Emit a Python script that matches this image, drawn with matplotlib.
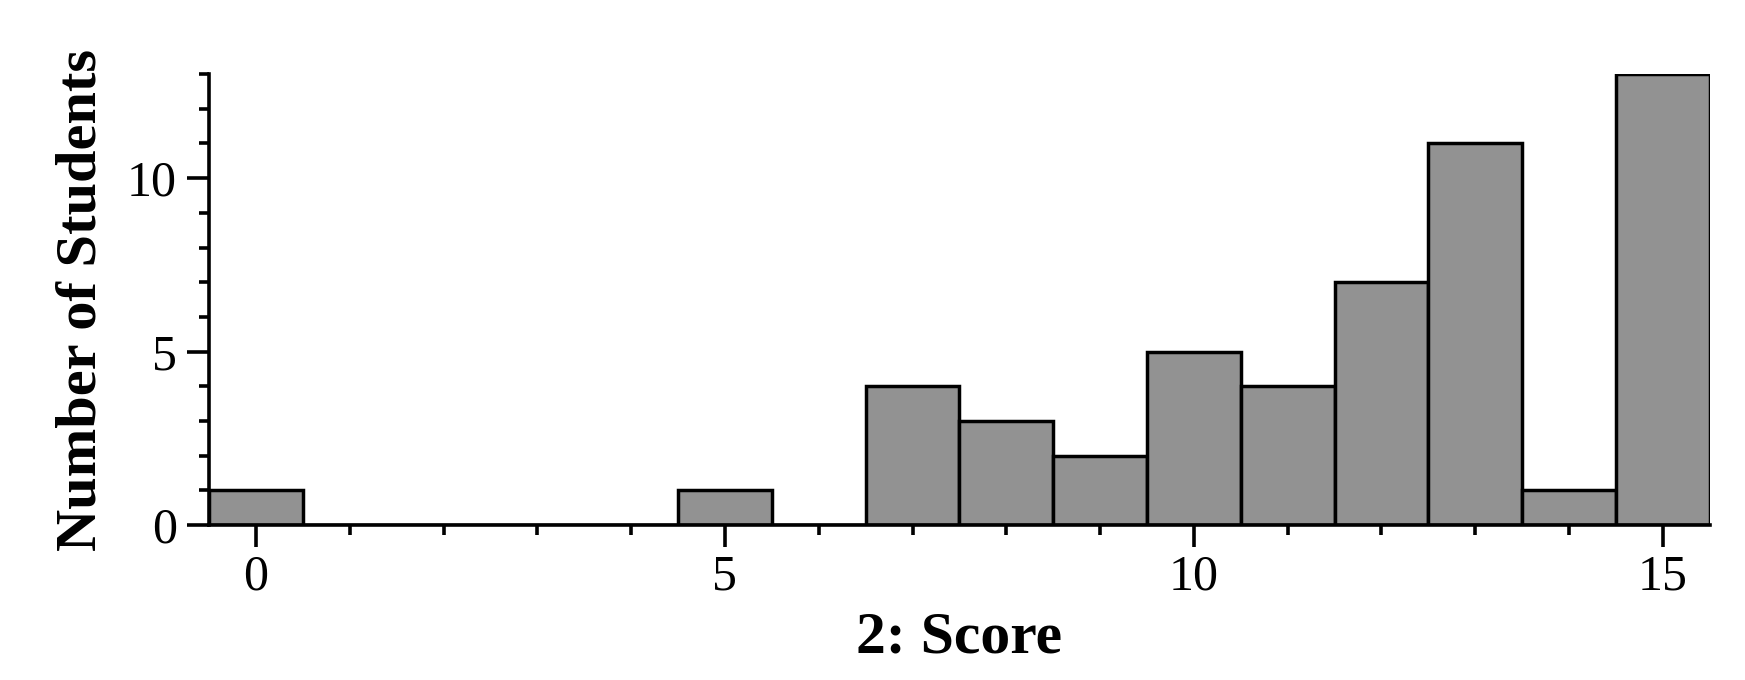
import matplotlib
matplotlib.use("Agg")
import matplotlib.pyplot as plt
from matplotlib.ticker import MultipleLocator

scores = [0, 1, 2, 3, 4, 5, 6, 7, 8, 9, 10, 11, 12, 13, 14, 15]
counts = [1, 0, 0, 0, 0, 1, 0, 4, 3, 2, 5, 4, 7, 11, 1, 13]

plt.rcParams["font.family"] = ["Liberation Serif", "DejaVu Serif"]

fig = plt.figure(figsize=(17.45, 6.8), dpi=100)
ax = fig.add_axes([0.1198, 0.228, 0.860, 0.663])

ax.bar(scores, counts, width=1.0, color="#929292", edgecolor="black",
       linewidth=2.5, zorder=2)

ax.set_xlim(-0.5, 15.5)
ax.set_ylim(0, 13)
for s in ("top", "right"):
    ax.spines[s].set_visible(False)
for s in ("left", "bottom"):
    ax.spines[s].set_linewidth(2.6)
    ax.spines[s].set_zorder(3)

ax.xaxis.set_major_locator(MultipleLocator(5))
ax.xaxis.set_minor_locator(MultipleLocator(1))
ax.yaxis.set_major_locator(MultipleLocator(5))
ax.yaxis.set_minor_locator(MultipleLocator(1))
ax.tick_params(which="major", length=16, width=2.6, labelsize=36)
ax.tick_params(which="minor", length=7, width=2.6)
ax.tick_params(axis="y", which="major", pad=7)
ax.tick_params(axis="x", which="major", pad=5)

ax.set_xlabel("2: Score", fontsize=43, fontweight="bold", labelpad=8)
ax.set_ylabel("Number of Students", fontsize=42, fontweight="bold", labelpad=14)

fig.savefig("out.png", dpi=100)
